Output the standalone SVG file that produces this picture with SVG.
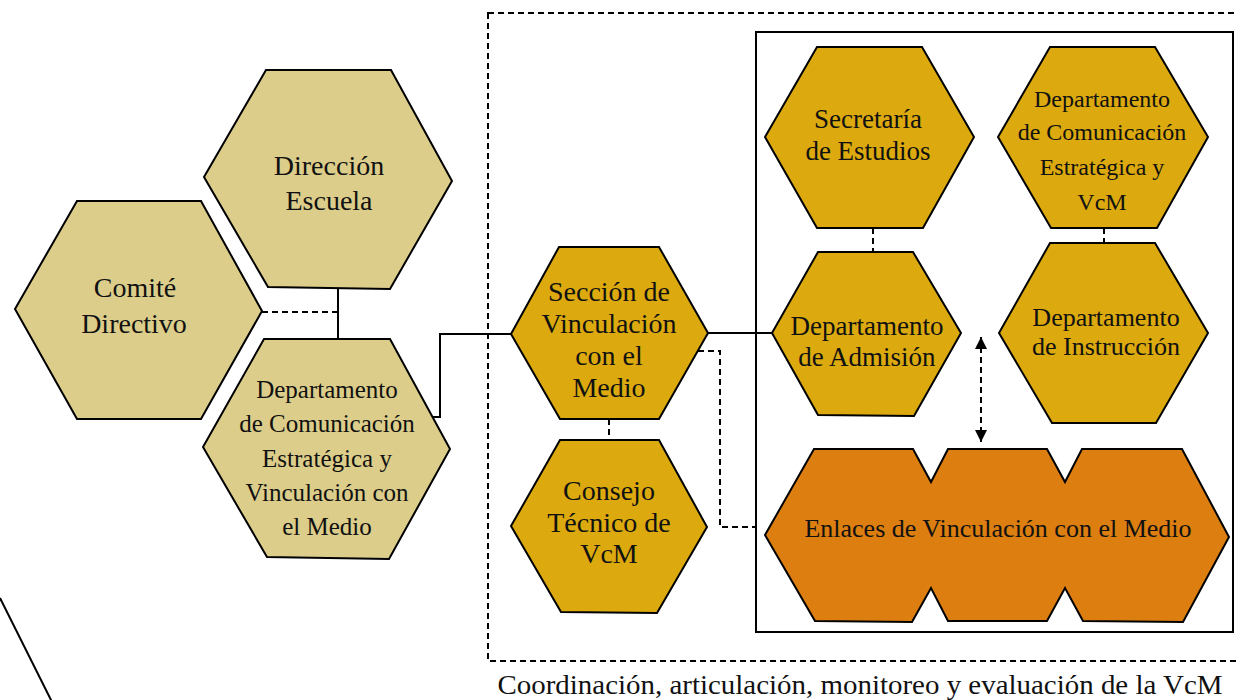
<svg xmlns="http://www.w3.org/2000/svg" width="1238" height="700" viewBox="0 0 1238 700">
<defs>
<style>
.hex{stroke:#000;stroke-width:2;stroke-linejoin:miter}
.beige{fill:#DCCE8A}
.gold{fill:#DCAA0E}
.orange{fill:#DC7E10}
.t{font-family:"Liberation Serif","Times New Roman",serif;fill:#111;text-anchor:middle}
.solid{fill:none;stroke:#000;stroke-width:2}
.dash{fill:none;stroke:#000;stroke-width:2;stroke-dasharray:6,4}
</style>
<marker id="arr" markerUnits="userSpaceOnUse" markerWidth="12" markerHeight="16" refX="12" refY="6" orient="auto-start-reverse" viewBox="0 0 12 12">
<path d="M0,0 L12,6 L0,12 z" fill="#000"/>
</marker>
</defs>
<rect width="1238" height="700" fill="#fff"/>

<g id="frames">
<rect x="488" y="13" width="770" height="648" class="dash"/>
<rect x="756" y="32" width="477" height="600" class="solid"/>
<line x1="0" y1="598" x2="52" y2="702" class="solid"/>
</g>

<g id="connectors">
<polyline points="338,289 338,339" class="solid"/>
<polyline points="262,312 338,312" class="dash"/>
<polyline points="432,417 440,417 440,334 511,334" class="solid"/>
<polyline points="708,333 772,333" class="solid"/>
<polyline points="698,351 720,351 720,527 756,527" class="dash"/>
<polyline points="609,419 609,440" class="dash"/>
<polyline points="873,228 873,252" class="dash"/>
<polyline points="1104,228 1104,243" class="dash"/>
<line x1="981" y1="337" x2="981" y2="442" class="dash" marker-start="url(#arr)" marker-end="url(#arr)"/>
</g>

<g id="comite">
<polygon class="hex beige" points="77,201 201,201 262,311 201,419 77,419 15,309"/>
<text class="t" font-size="28"><tspan x="135" y="297">Comité</tspan><tspan x="134" y="333">Directivo</tspan></text>
</g>

<g id="direccion">
<polygon class="hex beige" points="266,70 391,70 452,181 390,289 268,287 204,177"/>
<text class="t" font-size="28"><tspan x="329" y="175">Dirección</tspan><tspan x="329" y="210">Escuela</tspan></text>
</g>

<g id="depto-com-vcm">
<polygon class="hex beige" points="264,339 390,339 450,449 389,559 267,557 203,447"/>
<text class="t" font-size="25"><tspan x="327" y="398">Departamento</tspan><tspan x="327" y="432">de Comunicación</tspan><tspan x="327" y="467">Estratégica y</tspan><tspan x="327" y="501">Vinculación con</tspan><tspan x="327" y="535">el Medio</tspan></text>
</g>

<g id="seccion">
<polygon class="hex gold" points="559,247 659,247 708,333 659,419 560,419 511,334"/>
<text class="t" font-size="28"><tspan x="609" y="301">Sección de</tspan><tspan x="609" y="333">Vinculación</tspan><tspan x="609" y="365">con el</tspan><tspan x="609" y="397">Medio</tspan></text>
</g>

<g id="consejo">
<polygon class="hex gold" points="560,440 659,440 707,527 657,613 561,612 511,526"/>
<text class="t" font-size="28"><tspan x="609" y="500">Consejo</tspan><tspan x="609" y="532">Técnico de</tspan><tspan x="609" y="563">VcM</tspan></text>
</g>

<g id="secretaria">
<polygon class="hex gold" points="817,47 922,47 974,137 923,228 817,228 765,137"/>
<text class="t" font-size="27"><tspan x="868" y="128">Secretaría</tspan><tspan x="868" y="160">de Estudios</tspan></text>
</g>

<g id="depto-com-estrategica">
<polygon class="hex gold" points="1050,47 1155,47 1208,137 1157,228 1051,228 998,137"/>
<text class="t" font-size="24"><tspan x="1102" y="107">Departamento</tspan><tspan x="1102" y="140">de Comunicación</tspan><tspan x="1102" y="175">Estratégica y</tspan><tspan x="1102" y="210">VcM</tspan></text>
</g>

<g id="admision">
<polygon class="hex gold" points="818,252 913,252 961,333 914,416 818,415 772,333"/>
<text class="t" font-size="27"><tspan x="867" y="335">Departamento</tspan><tspan x="867" y="366">de Admisión</tspan></text>
</g>

<g id="instruccion">
<polygon class="hex gold" points="1050,243 1155,243 1208,333 1156,423 1052,423 999,333"/>
<text class="t" font-size="26"><tspan x="1106" y="326">Departamento</tspan><tspan x="1106" y="355">de Instrucción</tspan></text>
</g>

<g id="enlaces">
<polygon class="hex orange" points="765,535 814,449 913,449 931,482 948,449 1047,449 1065,482 1082,449 1182,449 1229,537 1183,622 1083,621 1065,588 1047,621 948,621 931,588 912,622 815,621"/>
<text class="t" font-size="26" x="998" y="537">Enlaces de Vinculación con el Medio</text>
</g>

<g id="caption">
<text class="t" font-size="27" x="860" y="694" textLength="725" lengthAdjust="spacingAndGlyphs">Coordinación, articulación, monitoreo y evaluación de la VcM</text>
</g>
</svg>
